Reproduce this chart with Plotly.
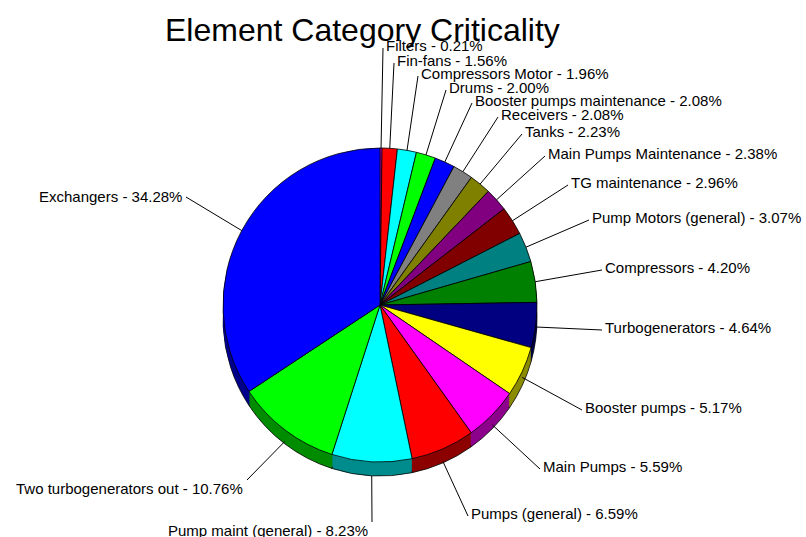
import math
import plotly.graph_objects as go

# ---- data ----
categories = ["Filters", "Fin-fans", "Compressors Motor", "Drums",
              "Booster pumps maintenance", "Receivers", "Tanks",
              "Main Pumps Maintenance", "TG maintenance", "Pump Motors (general)",
              "Compressors", "Turbogenerators", "Booster pumps", "Main Pumps",
              "Pumps (general)", "Pump maint (general)", "Two turbogenerators out",
              "Exchangers"]
values = [0.21, 1.56, 1.96, 2.00, 2.08, 2.08, 2.23, 2.38, 2.96, 3.07,
          4.20, 4.64, 5.17, 5.59, 6.59, 8.23, 10.76, 34.28]

# ---- styles ----
colors = ["#FF00FF", "#FF0000", "#00FFFF", "#00FF00", "#0000FF", "#808080",
          "#808000", "#800080", "#800000", "#008080", "#008000", "#000080",
          "#FFFF00", "#FF00FF", "#FF0000", "#00FFFF", "#00FF00", "#0000FF"]

def darker(c, f=0.55):
    r, g, b = int(c[1:3], 16), int(c[3:5], 16), int(c[5:7], 16)
    return "rgb(%d,%d,%d)" % (r * f, g * f, b * f)

side_colors = [darker(c) for c in colors]

W, H = 806, 537
CX, CY, R = 380, 305, 157      # pixel geometry of the top face
DEPTH = 14

# label layout: (text x, text y, anchor side)
label_pos = [
    (384, 45, "left"), (395, 60, "left"), (419, 73, "left"), (447, 87, "left"),
    (473, 100, "left"), (499, 114, "left"), (523, 131, "left"), (546, 153, "left"),
    (569, 182, "left"), (590, 217, "left"), (603, 267, "left"), (603, 327, "left"),
    (583, 407, "left"), (541, 466, "left"), (469, 513, "left"), (370, 530, "right"),
    (245, 488, "right"), (184, 196, "right"),
]

def domain(cy_px):
    return dict(x=[(CX - R) / W, (CX + R) / W],
                y=[(H - cy_px - R) / H, (H - cy_px + R) / H])

fig = go.Figure()

# 3D side (stacked darker pies)
for k, off in enumerate(range(DEPTH, 0, -2)):
    fig.add_trace(go.Pie(
        values=values, labels=categories, sort=False, direction="clockwise",
        rotation=0, textinfo="none", hoverinfo="skip", showlegend=False,
        marker=dict(colors=side_colors,
                    line=dict(color="black", width=0.8 if k == 0 else 0)),
        domain=domain(CY + off)))

# top face
fig.add_trace(go.Pie(
    values=values, labels=categories, sort=False, direction="clockwise",
    rotation=0, textinfo="none", showlegend=False,
    marker=dict(colors=colors, line=dict(color="black", width=0.8)),
    domain=domain(CY)))

total = sum(values)
cum = 0.0
shapes, annotations = [], []
for name, v, (tx, ty, side) in zip(categories, values, label_pos):
    mid = (cum + v / 2) / total * 2 * math.pi
    cum += v
    px = CX + R * math.sin(mid)
    py = CY - R * math.cos(mid)
    if math.cos(mid) < 0:
        py += DEPTH * (-math.cos(mid))
    if side == "left":
        ex, ey = tx - 1, ty + 3
    else:
        ex, ey = tx + 2, ty - 8 if ty > 400 else ty + 1
    shapes.append(dict(type="line", xref="x", yref="y", x0=px, y0=py, x1=ex, y1=ey,
                       line=dict(color="black", width=1)))
    annotations.append(dict(
        x=tx, y=ty, xref="x", yref="y", showarrow=False,
        text="%s - %.2f%%" % (name, v),
        xanchor=side, yanchor="middle",
        font=dict(family="Liberation Sans, Arial", size=15, color="black")))

annotations.append(dict(x=362, y=30, xref="x", yref="y", showarrow=False,
                        text="Element Category Criticality", xanchor="center",
                        yanchor="middle",
                        font=dict(family="Liberation Sans, Arial", size=32,
                                  color="black")))

fig.update_layout(
    width=W, height=H, margin=dict(l=0, r=0, t=0, b=0),
    paper_bgcolor="white", plot_bgcolor="rgba(0,0,0,0)",
    xaxis=dict(range=[0, W], visible=False, fixedrange=True),
    yaxis=dict(range=[H, 0], visible=False, fixedrange=True),
    shapes=shapes, annotations=annotations, showlegend=False,
)

fig.write_html("out.html")
